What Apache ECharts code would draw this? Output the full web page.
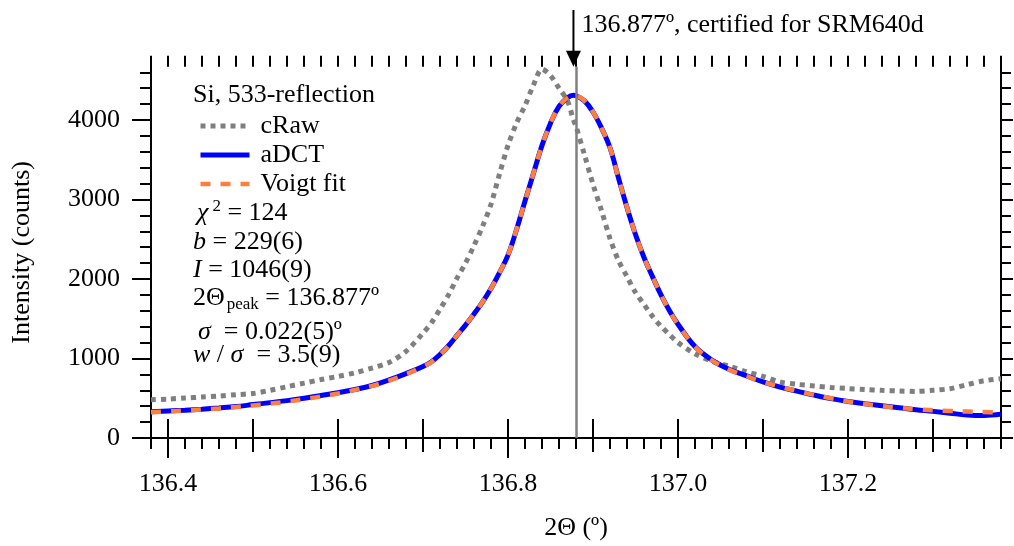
<!DOCTYPE html>
<html><head><meta charset="utf-8">
<script src="https://cdn.jsdelivr.net/npm/echarts@6/dist/echarts.min.js"></script>
<style>html,body{margin:0;padding:0;background:#fff}#c{width:1014px;height:546px}</style>
</head><body><div id="c"></div>
<script>
// ---- data ----
const twoTheta = [136.38,136.40,136.42,136.44,136.46,136.48,136.50,136.52,136.54,136.56,136.58,136.60,136.62,136.64,136.66,136.68,136.70,
  136.71,136.72,136.73,136.74,136.75,136.76,136.77,136.78,136.79,136.80,136.81,136.82,136.83,136.84,136.85,136.86,136.87,136.877,136.88,136.89,136.90,136.91,136.92,136.93,136.94,136.95,136.96,136.97,136.98,136.99,137.00,
  137.02,137.04,137.06,137.08,137.10,137.12,137.14,137.16,137.18,137.20,137.22,137.24,137.26,137.28,137.30,137.32,137.34,137.36,137.38];
const cRaw = [480,490,502,515,528,545,560,600,645,690,735,775,820,880,950,1090,1320,
  1450,1620,1800,2010,2200,2420,2660,2940,3320,3680,3960,4180,4440,4640,4560,4400,4240,4000,3920,3560,3190,2860,2510,2230,2030,1830,1680,1530,1405,1300,1200,
  1060,965,905,835,775,705,675,655,635,622,610,600,592,586,600,620,670,720,744];
const aDCT = [330,340,350,363,378,395,420,445,470,500,535,570,610,660,730,810,900,
  960,1050,1160,1290,1420,1560,1710,1880,2080,2300,2620,2980,3330,3680,3960,4170,4280,4310,4305,4240,4100,3900,3650,3270,2900,2560,2270,2030,1800,1600,1430,
  1150,980,865,785,705,640,590,540,495,458,430,405,380,355,335,312,290,282,300];
const voigtFit = [325,335,345,358,372,390,410,432,458,488,522,560,605,655,720,800,900,
  955,1045,1160,1290,1420,1560,1710,1880,2080,2300,2620,2980,3330,3680,3960,4170,4280,4300,4300,4240,4100,3900,3650,3270,2900,2560,2270,2030,1800,1600,1430,
  1150,975,860,780,705,645,590,542,500,458,428,400,378,362,350,340,333,327,322];
const xTickLabels = [136.4,136.6,136.8,137.0,137.2];
const yTickLabels = [0,1000,2000,3000,4000];
const peakPos = 136.877;
const xMin = 136.38, xMax = 137.38, yMin = 0, yMax = 4670;

// ---- tick positions ----
const xMinor = [], xMid = [], yMinor = [];
for (let i = 0; i <= 50; i++) xMinor.push(+(xMin + i * 0.02).toFixed(2));
for (let i = 0; i <= 10; i++) { const v = +(136.4 + i * 0.1).toFixed(1); if (v <= xMax) xMid.push(v); }
for (let v = 0; v <= 4600; v += 200) yMinor.push(v);

const FONT = "'Liberation Serif', 'Times New Roman', serif";
const chart = echarts.init(document.getElementById('c'), null, {renderer: 'canvas'});

function xAx(extra) {
  return Object.assign({type: 'value', min: xMin, max: xMax, gridIndex: 0, position: 'bottom',
    splitLine: {show: false}, axisLine: {show: false}, axisLabel: {show: false},
    axisTick: {show: false}, minorTick: {show: false}}, extra);
}
function yAx(extra) {
  return Object.assign({type: 'value', min: yMin, max: yMax, gridIndex: 0, position: 'left',
    splitLine: {show: false}, axisLine: {show: false}, axisLabel: {show: false},
    axisTick: {show: false}, minorTick: {show: false}}, extra);
}
const lineBlack = {show: true, lineStyle: {color: '#000', width: 2}};
function ticks(values, len) {
  return {show: true, inside: false, length: len, customValues: values, lineStyle: {color: '#000', width: 2}};
}

const styles = {
  cRaw: {color: '#7f7f7f', width: 5, type: [5, 5], cap: 'butt'},
  aDCT: {color: '#0000ff', width: 5, type: 'solid'},
  voigt: {color: '#ff7f3f', width: 4.5, type: [10, 10], cap: 'butt'}
};

const option = {
  animation: false,
  backgroundColor: '#fff',
  grid: {left: 151, right: 13, top: 66.7, bottom: 102.7, containLabel: false},
  xAxis: [
    xAx({axisLine: lineBlack, axisTick: ticks(xTickLabels, 20),
      axisLabel: {show: true, customValues: xTickLabels, margin: 33, color: '#000', fontFamily: FONT, fontSize: 26,
        hideOverlap: false, formatter: v => Number(v).toFixed(1)},
      name: '2Θ (º)', nameLocation: 'middle', nameGap: 77,
      nameTextStyle: {color: '#000', fontFamily: FONT, fontSize: 26}}),
    xAx({axisTick: ticks(xMid, 14)}),
    xAx({axisTick: ticks(xMinor, 11)}),
    xAx({position: 'top', axisLine: lineBlack, axisTick: ticks(xMid, 19)}),
    xAx({position: 'top', axisTick: ticks(xMinor, 11)})
  ],
  yAxis: [
    yAx({axisLine: lineBlack, axisTick: ticks(yTickLabels, 19),
      axisLabel: {show: true, customValues: yTickLabels, margin: 31, color: '#000', fontFamily: FONT, fontSize: 26,
        verticalAlign: 'middle', verticalAlignMinLabel: 'middle', verticalAlignMaxLabel: 'middle', hideOverlap: false,
        formatter: v => String(Math.round(v))},
      name: 'Intensity (counts)', nameLocation: 'middle', nameGap: 116,
      nameTextStyle: {color: '#000', fontFamily: FONT, fontSize: 26}}),
    yAx({axisTick: ticks(yMinor, 11)}),
    yAx({position: 'right', axisLine: lineBlack, axisTick: ticks(yMinor, 10)}),
    yAx({position: 'right', axisTick: ticks(yTickLabels, 12)})
  ],
  legend: {
    show: true, orient: 'vertical', left: 198, top: 113, padding: 0, itemWidth: 49, itemHeight: 14, itemGap: 3,
    selectedMode: false,
    data: [
      {name: 'cRaw', lineStyle: Object.assign({}, styles.cRaw)},
      {name: 'aDCT', lineStyle: Object.assign({}, styles.aDCT)},
      {name: 'Voigt fit', lineStyle: Object.assign({}, styles.voigt)}
    ],
    itemStyle: {opacity: 0},
    textStyle: {fontFamily: FONT, fontSize: 26, color: '#000', padding: [0, 0, 0, 6]}
  },
  series: [
    {name: 'cRaw', type: 'line', xAxisIndex: 0, yAxisIndex: 0, symbol: 'none', showSymbol: false, smooth: 0.3,
      data: twoTheta.map((x, i) => [x, cRaw[i]]),
      itemStyle: {color: styles.cRaw.color},
      lineStyle: styles.cRaw,
      markLine: {silent: true, symbol: ['none', 'none'], label: {show: false}, animation: false,
        lineStyle: {color: '#808080', width: 2.5, type: 'solid'}, data: [{xAxis: peakPos}]}},
    {name: 'aDCT', type: 'line', xAxisIndex: 0, yAxisIndex: 0, symbol: 'none', showSymbol: false, smooth: 0.4,
      data: twoTheta.map((x, i) => [x, aDCT[i]]),
      itemStyle: {color: styles.aDCT.color},
      lineStyle: styles.aDCT},
    {name: 'Voigt fit', type: 'line', xAxisIndex: 0, yAxisIndex: 0, symbol: 'none', showSymbol: false, smooth: 0.4,
      data: twoTheta.map((x, i) => [x, voigtFit[i]]),
      itemStyle: {color: styles.voigt.color},
      lineStyle: styles.voigt}
  ]
};
chart.setOption(option);

// ---- annotations ----
const px = chart.convertToPixel({xAxisIndex: 0}, peakPos);
const topY = chart.convertToPixel({yAxisIndex: 0}, yMax);
const base = {fontFamily: FONT, fontSize: 26, lineHeight: 30, color: '#000'};
const ital = Object.assign({}, base, {fontStyle: 'italic'});
const sup = {fontFamily: FONT, fontSize: 17, lineHeight: 17, color: '#000', verticalAlign: 'top', padding: [0, 0, 0, 4]};
const sub = {fontFamily: FONT, fontSize: 17, lineHeight: 17, color: '#000', verticalAlign: 'bottom', padding: [0, 0, 0, 2]};
function txt(x, y, text) {
  return {type: 'text', x: x, y: y, silent: true,
    style: {text: text, verticalAlign: 'middle', align: 'left', rich: {n: base, i: ital, sup: sup, sub: sub},
      fontFamily: FONT, fontSize: 26, fill: '#000'}};
}
chart.setOption({graphic: [
  {type: 'line', silent: true, shape: {x1: px, y1: 10, x2: px, y2: topY - 12}, style: {stroke: '#000', lineWidth: 2}},
  {type: 'polygon', silent: true, shape: {points: [[px - 7.5, topY - 16], [px + 7.5, topY - 16], [px, topY]]}, style: {fill: '#000'}},
  txt(px + 8, 25, peakPos.toFixed(3) + 'º, certified for SRM640d'),
  txt(193, 95, 'Si, 533-reflection'),
  txt(197, 213, '{i|χ}{sup|2}{n| = 124}'),
  txt(193, 242, '{i|b}{n| = 229(6)}'),
  txt(193, 270, '{i|I}{n| = 1046(9)}'),
  txt(193, 298, '{n|2Θ}{sub|peak}{n| = 136.877º}'),
  txt(198, 332, '{i|σ}{n|  = 0.022(5)º}'),
  txt(193, 355, '{i|w}{n| / }{i|σ}{n|  = 3.5(9)}')
]});
</script>
</body></html>
